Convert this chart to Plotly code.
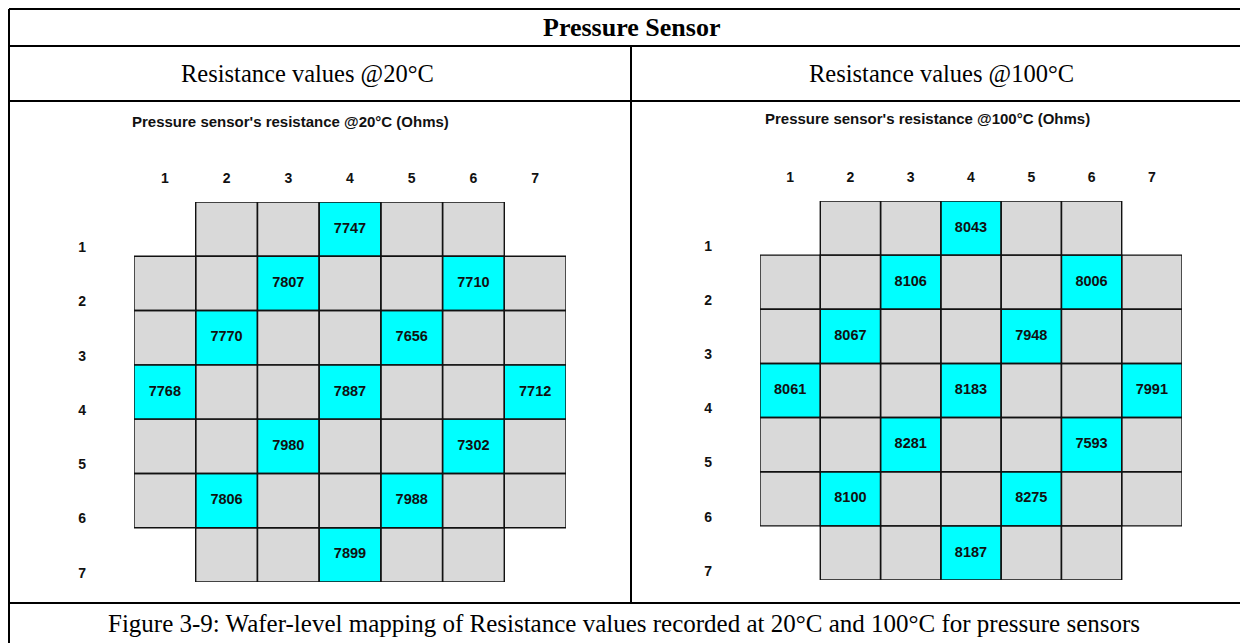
import plotly.graph_objects as go

OFF = 8  # page body margin offset
W, H = 1248 - OFF, 643 - OFF

# ---------------- data ----------------
wafer_rows = [1, 2, 3, 4, 5, 6, 7]
wafer_cols = [1, 2, 3, 4, 5, 6, 7]
row_first_col = [2, 1, 1, 1, 1, 1, 2]
row_last_col = [6, 7, 7, 7, 7, 7, 6]

site_rows = [1, 2, 2, 3, 3, 4, 4, 4, 5, 5, 6, 6, 7]
site_cols = [4, 3, 6, 2, 5, 1, 4, 7, 3, 6, 2, 5, 4]
res_20C = [7747, 7807, 7710, 7770, 7656, 7768, 7887, 7712, 7980, 7302, 7806, 7988, 7899]
res_100C = [8043, 8106, 8006, 8067, 7948, 8061, 8183, 7991, 8281, 7593, 8100, 8275, 8187]

table_title = "Pressure Sensor"
col_headers = ["Resistance values @20°C", "Resistance values @100°C"]
panel_titles = ["Pressure sensor's resistance @20°C (Ohms)",
                "Pressure sensor's resistance @100°C (Ohms)"]
caption = "Figure 3-9: Wafer-level mapping of Resistance values recorded at 20°C and 100°C for pressure sensors"

# ---------------- styling ----------------
GRAY = "#d9d9d9"
CYAN = "#00ffff"
SERIF = "Liberation Serif, Times New Roman, serif"
SANS = "Liberation Sans, Arial, sans-serif"


def px_x(p):
    return (p - OFF) / W


def px_y(p):
    return 1 - (p - OFF) / H


# grid placement (pixels) for each panel: left, right, top, bottom
panels = [
    dict(x0=134, x1=566, y0=202, y1=582, title_x=290, title_y=122),
    dict(x0=760, x1=1182, y0=201, y1=580, title_x=927, title_y=118),
]

fig = go.Figure()
shapes = []
annotations = []

for i, (vals, pan) in enumerate(zip([res_20C, res_100C], panels)):
    xa = "x" if i == 0 else "x2"
    ya = "y" if i == 0 else "y2"
    z = []
    for r, c0, c1 in zip(wafer_rows, row_first_col, row_last_col):
        row = []
        for c in wafer_cols:
            row.append(0 if c0 <= c <= c1 else None)
        z.append(row)
    for r, c in zip(site_rows, site_cols):
        z[r - 1][c - 1] = 1
    fig.add_trace(go.Heatmap(
        x=wafer_cols, y=wafer_rows, z=z, xaxis=xa, yaxis=ya,
        colorscale=[[0, GRAY], [1, CYAN]], zmin=0, zmax=1,
        showscale=False, hoverinfo="skip"))
    for r, c0, c1 in zip(wafer_rows, row_first_col, row_last_col):
        for c in range(c0, c1 + 1):
            shapes.append(dict(type="rect", xref=xa, yref=ya,
                               x0=c - 0.5, x1=c + 0.5, y0=r - 0.5, y1=r + 0.5,
                               line=dict(color="#111111", width=1.4),
                               fillcolor="rgba(0,0,0,0)", layer="above"))
    fig.add_trace(go.Scatter(
        x=site_cols, y=site_rows, xaxis=xa, yaxis=ya, mode="text",
        text=[str(v) for v in vals],
        textfont=dict(family=SANS, size=14.5, color="#111111", weight="bold"),
        hoverinfo="skip", showlegend=False))
    annotations.append(dict(
        xref="paper", yref="paper", x=px_x(pan["title_x"]), y=px_y(pan["title_y"]),
        text="<b>" + panel_titles[i] + "</b>", showarrow=False,
        font=dict(family=SANS, size=15, color="#111111"),
        xanchor="center", yanchor="middle"))

    axis_common = dict(showgrid=False, zeroline=False, showline=False, ticks="",
                       tickfont=dict(family=SANS, size=14, color="#111111", weight="bold"))
    xkey = "xaxis" if i == 0 else "xaxis2"
    ykey = "yaxis" if i == 0 else "yaxis2"
    fig.update_layout(**{
        xkey: dict(axis_common, domain=[px_x(pan["x0"]), px_x(pan["x1"])],
                   range=[0.5, 7.5], side="top", tickvals=wafer_cols,
                   ticktext=[str(c) for c in wafer_cols], anchor=ya,
                   ticklabelstandoff=15),
        ykey: dict(axis_common, domain=[px_y(pan["y1"]), px_y(pan["y0"])],
                   range=[7.5, 0.5], tickvals=[r + 0.33 for r in wafer_rows],
                   ticktext=[str(r) for r in wafer_rows], anchor=xa,
                   ticklabelstandoff=47),
    })

# ---------------- table frame ----------------
LW = 2
line = dict(color="black", width=LW)
for (x0, y0, x1, y1) in [
    (9, 9, 1260, 9),        # top
    (9, 9, 9, 660),         # left
    (9, 46, 1260, 46),
    (9, 101, 1260, 101),
    (9, 603, 1260, 603),
    (631, 46, 631, 603),    # middle divider
]:
    shapes.append(dict(type="line", xref="paper", yref="paper",
                       x0=px_x(x0), x1=px_x(x1), y0=px_y(y0), y1=px_y(y1),
                       line=line, layer="above"))

annotations += [
    dict(xref="paper", yref="paper", x=px_x(631), y=px_y(27), text="<b>" + table_title + "</b>",
         showarrow=False, font=dict(family=SERIF, size=26, color="black"),
         xanchor="center", yanchor="middle"),
    dict(xref="paper", yref="paper", x=px_x(307), y=px_y(74), text=col_headers[0],
         showarrow=False, font=dict(family=SERIF, size=24.5, color="black"),
         xanchor="center", yanchor="middle"),
    dict(xref="paper", yref="paper", x=px_x(942), y=px_y(74), text=col_headers[1],
         showarrow=False, font=dict(family=SERIF, size=24.5, color="black"),
         xanchor="center", yanchor="middle"),
    dict(xref="paper", yref="paper", x=px_x(624), y=px_y(623), text=caption,
         showarrow=False, font=dict(family=SERIF, size=25, color="black"),
         xanchor="center", yanchor="middle"),
]

fig.update_layout(
    width=W, height=H, margin=dict(l=0, r=0, t=0, b=0),
    paper_bgcolor="white", plot_bgcolor="white",
    showlegend=False, shapes=shapes, annotations=annotations,
)

fig.write_html("out.html")
